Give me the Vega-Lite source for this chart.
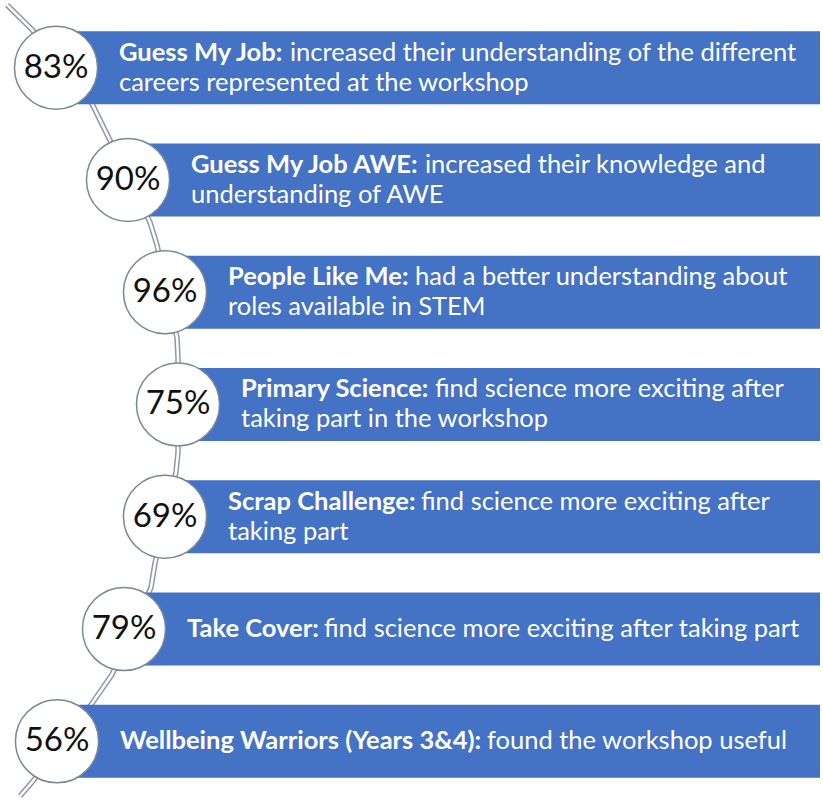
{
  "$schema": "https://vega.github.io/schema/vega-lite/v6.json",
  "width": 823,
  "height": 801,
  "autosize": {"type": "none"},
  "padding": 0,
  "background": "white",
  "config": {"view": {"stroke": null}},
  "datasets": {
    "rows": [
      {"row": 1, "cx": 56, "descStart": 290, "pct": 0.83, "label": "Guess My Job:", "first": "increased their understanding of the different", "second": "careers represented at the workshop"},
      {"row": 2, "cx": 128, "descStart": 425, "pct": 0.90, "label": "Guess My Job AWE:", "first": "increased their knowledge and", "second": "understanding of AWE"},
      {"row": 3, "cx": 165, "descStart": 415, "pct": 0.96, "label": "People Like Me:", "first": "had a better understanding about", "second": "roles available in STEM"},
      {"row": 4, "cx": 178, "descStart": 435, "pct": 0.75, "label": "Primary Science:", "first": "find science more exciting after", "second": "taking part in the workshop"},
      {"row": 5, "cx": 165, "descStart": 421, "pct": 0.69, "label": "Scrap Challenge:", "first": "find science more exciting after", "second": "taking part"},
      {"row": 6, "cx": 124, "descStart": 324, "pct": 0.79, "label": "Take Cover:", "first": "find science more exciting after taking part", "second": ""},
      {"row": 7, "cx": 57, "descStart": 487, "pct": 0.56, "label": "Wellbeing Warriors (Years 3&4):", "first": "found the workshop useful", "second": ""}
    ],
    "pipe": [
      {"seq": 1, "cx": 7, "row": 0.441},
      {"seq": 2, "cx": 32, "row": 0.661},
      {"seq": 3, "cx": 92, "row": 1.321},
      {"seq": 4, "cx": 108, "row": 1.611},
      {"seq": 5, "cx": 150, "row": 2.377},
      {"seq": 6, "cx": 157, "row": 2.579},
      {"seq": 7, "cx": 177, "row": 3.406},
      {"seq": 8, "cx": 178, "row": 3.591},
      {"seq": 9, "cx": 178, "row": 4.427},
      {"seq": 10, "cx": 176, "row": 4.603},
      {"seq": 11, "cx": 155, "row": 5.412},
      {"seq": 12, "cx": 151, "row": 5.632},
      {"seq": 13, "cx": 112, "row": 6.406},
      {"seq": 14, "cx": 90, "row": 6.688},
      {"seq": 15, "cx": 32, "row": 7.366},
      {"seq": 16, "cx": 20, "row": 7.488}
    ]
  },
  "encoding": {
    "x": {"field": "cx", "type": "quantitative", "scale": {"domain": [0, 823], "nice": false, "zero": false}, "axis": null},
    "y": {"field": "row", "type": "quantitative", "scale": {"domain": [0.4414, 7.488], "nice": false, "zero": false, "reverse": true}, "axis": null}
  },
  "layer": [
    {
      "data": {"name": "pipe"},
      "mark": {"type": "line", "color": "#8d99a8", "strokeWidth": 5.5},
      "encoding": {"order": {"field": "seq", "type": "quantitative"}}
    },
    {
      "data": {"name": "pipe"},
      "mark": {"type": "line", "color": "#ffffff", "strokeWidth": 2.5},
      "encoding": {"order": {"field": "seq", "type": "quantitative"}}
    },
    {
      "data": {"name": "rows"},
      "mark": {"type": "bar", "color": "#4472C4", "size": 73},
      "encoding": {"x2": {"datum": 820}}
    },
    {
      "data": {"name": "rows"},
      "mark": {"type": "point", "shape": "circle", "filled": true, "fill": "#ffffff", "stroke": "#7b8796", "strokeWidth": 1.5, "opacity": 1, "size": 6900}
    },
    {
      "data": {"name": "rows"},
      "mark": {"type": "text", "font": "Lato", "fontSize": 33, "color": "#111111", "align": "center", "baseline": "middle"},
      "encoding": {"text": {"field": "pct", "type": "quantitative", "format": ".0%"}}
    },
    {
      "data": {"name": "rows"},
      "transform": [{"filter": "datum.second != ''"}],
      "mark": {"type": "text", "font": "Lato", "fontWeight": "bold", "fontSize": 25.5, "color": "#ffffff", "align": "left", "baseline": "middle", "dx": 63, "dy": -15},
      "encoding": {"text": {"field": "label", "type": "nominal"}}
    },
    {
      "data": {"name": "rows"},
      "transform": [{"filter": "datum.second == ''"}],
      "mark": {"type": "text", "font": "Lato", "fontWeight": "bold", "fontSize": 25.5, "color": "#ffffff", "align": "left", "baseline": "middle", "dx": 63, "dy": 0},
      "encoding": {"text": {"field": "label", "type": "nominal"}}
    },
    {
      "data": {"name": "rows"},
      "transform": [{"filter": "datum.second != ''"}],
      "mark": {"type": "text", "font": "Lato", "fontSize": 25.5, "color": "#ffffff", "align": "left", "baseline": "middle", "dy": -15},
      "encoding": {"x": {"field": "descStart", "type": "quantitative"}, "text": {"field": "first", "type": "nominal"}}
    },
    {
      "data": {"name": "rows"},
      "transform": [{"filter": "datum.second == ''"}],
      "mark": {"type": "text", "font": "Lato", "fontSize": 25.5, "color": "#ffffff", "align": "left", "baseline": "middle", "dy": 0},
      "encoding": {"x": {"field": "descStart", "type": "quantitative"}, "text": {"field": "first", "type": "nominal"}}
    },
    {
      "data": {"name": "rows"},
      "transform": [{"filter": "datum.second != ''"}],
      "mark": {"type": "text", "font": "Lato", "fontSize": 25.5, "color": "#ffffff", "align": "left", "baseline": "middle", "dx": 63, "dy": 15},
      "encoding": {"text": {"field": "second", "type": "nominal"}}
    }
  ]
}
